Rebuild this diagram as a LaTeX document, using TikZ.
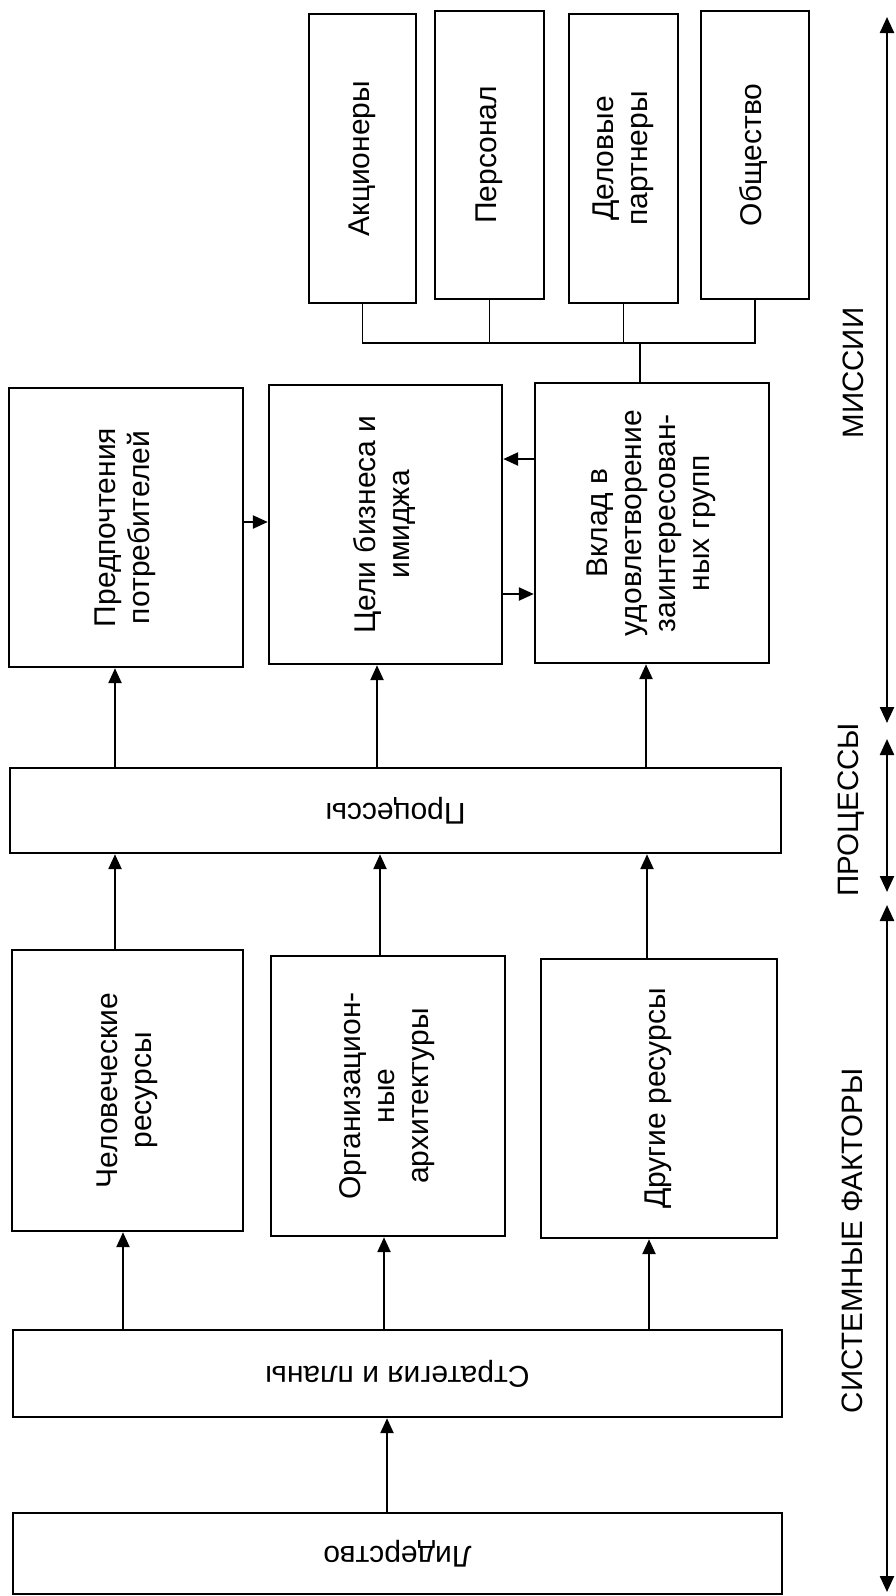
\documentclass[tikz,border=0pt]{standalone}
\usepackage{fontspec}
\setmainfont{Liberation Sans}
\usetikzlibrary{arrows.meta}
\newcommand{\vt}[1]{\rotatebox{90}{\begin{tabular}{@{}c@{}}#1\end{tabular}}}
\newcommand{\ut}[1]{\rotatebox{180}{#1}}
\begin{document}
\begin{tikzpicture}[x=1pt,y=-1pt,
 box/.style={draw, line width=2.4pt, inner sep=0pt, font=\fontsize{30}{34}\selectfont},
 arr/.style={line width=2.4pt, -{Triangle[length=15pt,width=13pt]}},
 darr/.style={line width=2.4pt, {Triangle[length=16pt,width=14pt]}-{Triangle[length=16pt,width=14pt]}},
 tree/.style={line width=1.8pt},
 side/.style={font=\fontsize{29.5}{34}\selectfont, rotate=90, inner sep=0pt}]
\useasboundingbox (0,0) rectangle (896,1596);

% top row
\node[box, minimum width=107pt, minimum height=289pt] (ak) at (362.5,158.5) {\vt{Акционеры}};
\node[box, minimum width=109pt, minimum height=288pt] (pers) at (489.5,155) {\vt{Персонал}};
\node[box, minimum width=109pt, minimum height=289pt] (del) at (623.5,158.5) {\vt{Деловые\\партнеры}};
\node[box, minimum width=108pt, minimum height=288pt] (obs) at (755,155) {\vt{Общество}};

% middle row
\node[box, minimum width=234pt, minimum height=279pt] (pref) at (126,527.5) {\vt{Предпочтения\\потребителей}};
\node[box, minimum width=233pt, minimum height=279pt] (goals) at (385.5,524.5) {\vt{Цели бизнеса и\\имиджа}};
\node[box, minimum width=234pt, minimum height=280pt] (vklad) at (652,523) {\vt{Вклад в\\удовлетворение\\заинтересован-\\ных групп}};

% processes
\node[box, minimum width=771pt, minimum height=85pt] (proc) at (395.5,810.5) {\ut{Процессы}};

% lower row
\node[box, minimum width=231pt, minimum height=281pt] (hum) at (127.5,1090.5) {\vt{Человеческие\\ресурсы}};
\node[box, minimum width=234pt, minimum height=280pt] (org) at (388,1096) {\vt{Организацион-\\ные\\архитектуры}};
\node[box, minimum width=236pt, minimum height=279pt] (oth) at (659,1098.5) {\vt{Другие ресурсы}};

% strategy, leadership
\node[box, minimum width=769pt, minimum height=87pt] (strat) at (397.5,1373.5) {\ut{Стратегия и планы}};
\node[box, minimum width=769pt, minimum height=81pt] (lead) at (397.5,1553.5) {\ut{Лидерство}};

% tree
\coordinate (j) at (640,343);
\draw[tree] (ak.south) -- (ak.south |- j) -- (obs.south |- j) -- (obs.south);
\draw[tree] (pers.south) -- (pers.south |- j);
\draw[tree] (del.south) -- (del.south |- j);
\draw[tree] (j) -- (j |- vklad.north);

% vertical arrows
\coordinate (a1) at (115,0); \coordinate (a2) at (377,0); \coordinate (a3) at (646,0);
\draw[arr] (proc.north -| a1) -- (pref.south -| a1);
\draw[arr] (proc.north -| a2) -- (goals.south -| a2);
\draw[arr] (proc.north -| a3) -- (vklad.south -| a3);

\coordinate (b1) at (115,0); \coordinate (b2) at (380,0); \coordinate (b3) at (647,0);
\draw[arr] (hum.north -| b1) -- (proc.south -| b1);
\draw[arr] (org.north -| b2) -- (proc.south -| b2);
\draw[arr] (oth.north -| b3) -- (proc.south -| b3);

\coordinate (s1) at (123,0); \coordinate (s2) at (384,0); \coordinate (s3) at (649,0);
\draw[arr] (strat.north -| s1) -- (hum.south -| s1);
\draw[arr] (strat.north -| s2) -- (org.south -| s2);
\draw[arr] (strat.north -| s3) -- (oth.south -| s3);

\coordinate (l1) at (387,0);
\draw[arr] (lead.north -| l1) -- (strat.south -| l1);

% horizontal arrows
\coordinate (h1) at (0,522); \coordinate (h2) at (0,459); \coordinate (h3) at (0,594);
\draw[arr] (pref.east |- h1) -- (goals.west |- h1);
\draw[arr] (vklad.west |- h2) -- (goals.east |- h2);
\draw[arr] (goals.east |- h3) -- (vklad.west |- h3);

% right side
\coordinate (r1t) at (887,17);  \coordinate (r1b) at (887,723);
\coordinate (r2t) at (887,739); \coordinate (r2b) at (887,892);
\coordinate (r3t) at (887,905); \coordinate (r3b) at (887,1592);
\draw[darr] (r1t) -- (r1b);
\draw[darr] (r2t) -- (r2b);
\draw[darr] (r3t) -- (r3b);

\node[side] (lm) at (853,373) {МИССИИ};
\node[side] (lp) at (851,810) {ПРОЦЕССЫ};
\node[side] (ls) at (852,1241) {СИСТЕМНЫЕ ФАКТОРЫ};
\end{tikzpicture}
\end{document}
